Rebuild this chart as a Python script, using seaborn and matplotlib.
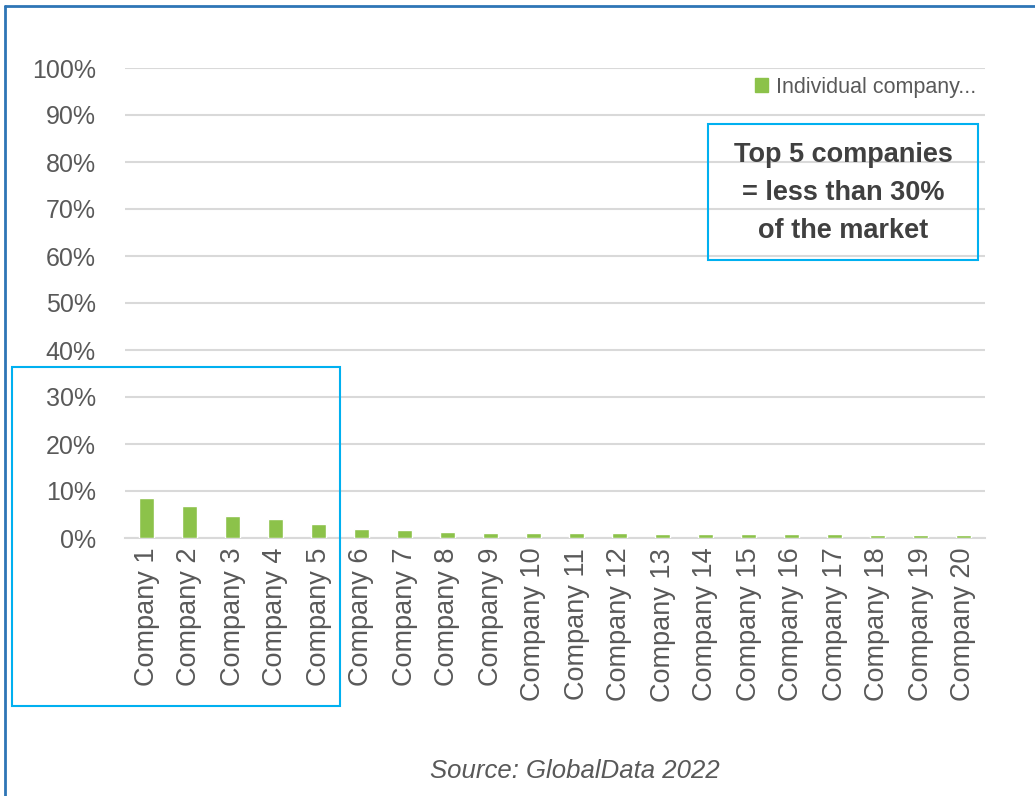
import matplotlib
matplotlib.use("Agg")
import matplotlib.pyplot as plt
import matplotlib.patches as mpatches
from matplotlib.lines import Line2D
import seaborn as sns
import pandas as pd

companies = [f"Company {i}" for i in range(1, 21)]
shares = [8.6, 6.9, 4.7, 4.0, 3.0, 1.9, 1.8, 1.3, 1.1, 1.0,
          1.0, 1.0, 0.95, 0.95, 0.8, 0.8, 0.8, 0.6, 0.6, 0.6]
yticks = list(range(0, 101, 10))
series_name = "Individual company..."
callout = "Top 5 companies\n= less than 30%\nof the market"
source = "Source: GlobalData 2022"

sns.set_theme(style="white")
plt.rcParams['font.family'] = ['Liberation Sans', 'DejaVu Sans']

GREEN = "#8CC24A"
GRAY = "#595959"
GRID = "#D9D9D9"
CYAN = "#00B0F0"
FRAME = "#2E75B6"

df = pd.DataFrame({"company": companies, "share": shares})

fig = plt.figure(figsize=(10.35, 7.96), dpi=100)
ax = fig.add_axes([125/1035, 1-538/796, 860/1035, 470/796])

sns.barplot(data=df, x="company", y="share", color=GREEN, width=0.33,
            saturation=1, ax=ax, zorder=3)

ax.set_xlim(-0.5, 19.5)
ax.set_ylim(0, 100)
ax.set_yticks(yticks)
ax.set_yticklabels([f"{t}%" for t in yticks], fontsize=18, color=GRAY)
ax.tick_params(axis='y', length=0, pad=21)
ax.tick_params(axis='x', length=0, pad=7)
plt.setp(ax.get_xticklabels(), rotation=90, fontsize=19.5, color=GRAY)
ax.set_xlabel("")
ax.set_ylabel("")
ax.grid(axis='y', color=GRID, linewidth=1.5, zorder=0)
for s in ["left", "right", "top"]:
    ax.spines[s].set_visible(False)
ax.spines["bottom"].set_color(GRID)
ax.spines["bottom"].set_linewidth(1.5)

handle = mpatches.Patch(color=GREEN, label=series_name)
leg = ax.legend(handles=[handle], loc="upper right", bbox_to_anchor=(1.0, 1.0),
                frameon=False, fontsize=15.5, handlelength=0.6, handleheight=0.6,
                handletextpad=0.4, borderaxespad=0.0)
for t in leg.get_texts():
    t.set_color(GRAY)

# callout boxes
fig.add_artist(mpatches.Rectangle((708/1035, 1-260/796), 270/1035, 136/796,
                                  transform=fig.transFigure, fill=False,
                                  edgecolor=CYAN, linewidth=1.5))
fig.text(843/1035, 1-193/796, callout, ha="center", va="center",
         fontsize=19.5, fontweight="bold", color="#404040", linespacing=1.62)
fig.add_artist(mpatches.Rectangle((12/1035, 1-706/796), 328/1035, 339/796,
                                  transform=fig.transFigure, fill=False,
                                  edgecolor=CYAN, linewidth=1.5))

fig.text(575/1035, 1-771/796, source, ha="center", va="center",
         fontsize=18.5, style="italic", color=GRAY)

# outer frame (left and top edges)
fig.add_artist(Line2D([5/1035, 5/1035], [0, 1-6/796], transform=fig.transFigure,
                      color=FRAME, linewidth=2))
fig.add_artist(Line2D([5/1035, 1], [1-6/796, 1-6/796], transform=fig.transFigure,
                      color=FRAME, linewidth=2))

fig.savefig("out.png", dpi=100, facecolor="white")
